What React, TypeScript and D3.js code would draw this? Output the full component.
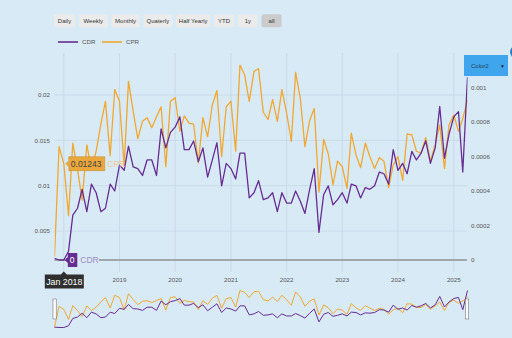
import React from 'react';
import * as d3 from 'd3';

const W = 512;
const H = 338;
const BG = '#d9eaf7';
const PURPLE = '#662d91';
const ORANGE = '#f0a830';
const GRID = '#c5d6e4';
const TEXT = '#555';
const FONT = '"Liberation Sans", Arial, sans-serif';

// monthly observations, Nov 2017 .. Apr 2025
const firstMonth = new Date(Date.UTC(2017, 10, 1));
const endMonth = new Date(Date.UTC(2025, 4, 1));
const months = d3.utcMonth.range(firstMonth, endMonth);

const cpr = [
  0.0022, 0.0143, 0.01243, 0.0067, 0.0147, 0.0118, 0.0084, 0.0145, 0.0118, 0.0138,
  0.0168, 0.0193, 0.0133, 0.0206, 0.0193, 0.0122, 0.0215, 0.0182, 0.0152, 0.0171,
  0.0175, 0.0164, 0.0176, 0.0187, 0.0121, 0.0193, 0.0197, 0.016, 0.0177, 0.0169,
  0.0168, 0.0125, 0.0175, 0.0154, 0.0189, 0.0205, 0.0132, 0.0187, 0.0193, 0.0138,
  0.0233, 0.0222, 0.0193, 0.0226, 0.0229, 0.0181, 0.0173, 0.0195, 0.0171, 0.0206,
  0.018, 0.0149, 0.0225, 0.0196, 0.0143, 0.0172, 0.0185, 0.0093, 0.0151, 0.0135,
  0.0101, 0.0127, 0.0121, 0.0097, 0.0158, 0.0134, 0.012, 0.0147, 0.0132, 0.0119,
  0.0131, 0.0127, 0.0098, 0.0123, 0.0132, 0.0106, 0.0157, 0.0156, 0.0138, 0.0136,
  0.0153, 0.0127, 0.0145, 0.0167, 0.0119, 0.0167, 0.0178, 0.016, 0.0174, 0.0195,
];

const cdr = [
  0.00001, 0, 0, 0.00005, 0.00026, 0.0003, 0.00041, 0.00028, 0.00044, 0.00039,
  0.00028, 0.0003, 0.00044, 0.0004, 0.00055, 0.00052, 0.00066, 0.00054, 0.00053, 0.00049,
  0.00058, 0.00058, 0.00049, 0.00076, 0.00065, 0.00074, 0.00077, 0.00083, 0.00064, 0.00064,
  0.00069, 0.00057, 0.00065, 0.00048, 0.00058, 0.00068, 0.00043, 0.00056, 0.00053, 0.00047,
  0.00062, 0.00062, 0.00036, 0.00039, 0.00046, 0.00035, 0.00036, 0.00039, 0.00028, 0.00039,
  0.00033, 0.00033, 0.0004, 0.00034, 0.00027, 0.00041, 0.00053, 0.00016, 0.00038, 0.00043,
  0.00032, 0.00035, 0.00039, 0.00033, 0.00044, 0.00043, 0.00036, 0.00042, 0.00041, 0.00043,
  0.00051, 0.0005, 0.00044, 0.00064, 0.00052, 0.00056, 0.0005, 0.00063, 0.00058, 0.00062,
  0.00069, 0.00056, 0.00065, 0.00089, 0.00059, 0.00073, 0.00083, 0.00086, 0.00051, 0.00106,
];

const yearTicks = [2018, 2019, 2020, 2021, 2022, 2023, 2024, 2025];
const yearLabels = [2019, 2020, 2021, 2022, 2023, 2024, 2025]; // 2018 is hidden under the cursor tooltip
const leftTicks = [0.005, 0.01, 0.015, 0.02];
const rightTicks = [0, 0.0002, 0.0004, 0.0006, 0.0008, 0.001];
const buttons = ['Daily', 'Weekly', 'Monthly', 'Quaterly', 'Half Yearly', 'YTD', '1y', 'all'];
const buttonWidths = [21, 29, 28, 29, 34, 20, 20, 20];
const seriesNames = ['CDR', 'CPR'];

const tooltipIndex = 2; // Jan 2018

// layout
const PL = 54.5;
const PR = 467.5;
const PT = 53;
const PB = 272;

export default function App() {
  const x = d3.scaleUtc().domain([firstMonth, new Date(Date.UTC(2025, 3, 1))]).range([PL, PR]);
  const yL = d3.scaleLinear().domain([0, 0.02]).range([276.4, 95]);
  const yR = d3.scaleLinear().domain([0, 0.001]).range([260, 87.5]);

  const lineCpr = d3.line<number>().x((_, i) => x(months[i])).y((d) => yL(d));
  const lineCdr = d3.line<number>().x((_, i) => x(months[i])).y((d) => yR(d));

  const nL = d3.scaleLinear().domain(d3.extent(cpr) as [number, number]).range([327.5, 290.5]);
  const nR = d3.scaleLinear().domain(d3.extent(cdr) as [number, number]).range([327.5, 290.5]);
  const navCpr = d3.line<number>().x((_, i) => x(months[i])).y((d) => nL(d));
  const navCdr = d3.line<number>().x((_, i) => x(months[i])).y((d) => nR(d));

  let bx = 54;
  const btns = buttons.map((b, i) => {
    const r = { label: b, x: bx, w: buttonWidths[i] };
    bx += buttonWidths[i] + 3.8;
    return r;
  });

  const tx = x(months[tooltipIndex]);
  const tCpr = yL(cpr[tooltipIndex]);
  const tCdr = yR(cdr[tooltipIndex]);
  const fmtMonth = d3.utcFormat('%b %Y');

  return (
    <svg width={W} height={H} style={{ position: 'absolute', left: 0, top: 0, fontFamily: FONT }}>
      <defs>
        <clipPath id="plotClip">
          <rect x={PL} y={PT - 5} width={PR - PL} height={PB - PT + 5} />
        </clipPath>
      </defs>
      <rect x={0} y={0} width={W} height={H} fill={BG} />

      {/* period buttons */}
      {btns.map((b, i) => (
        <g key={b.label}>
          <rect x={b.x} y={14.3} width={b.w} height={13} rx={2} fill={i === btns.length - 1 ? '#cbcbcb' : '#ebebeb'} />
          <text x={b.x + b.w / 2} y={23.1} fontSize={6} textAnchor="middle" fill="#333">{b.label}</text>
        </g>
      ))}

      {/* legend */}
      <line x1={58} x2={78} y1={42} y2={42} stroke={PURPLE} strokeWidth={1.6} />
      <text x={82} y={44.2} fontSize={6.2} fill={TEXT}>{seriesNames[0]}</text>
      <line x1={102} x2={122} y1={42} y2={42} stroke={ORANGE} strokeWidth={1.6} />
      <text x={126} y={44.2} fontSize={6.2} fill={TEXT}>{seriesNames[1]}</text>

      {/* grid */}
      {yearTicks.map((yr) => {
        const gx = x(new Date(Date.UTC(yr, 0, 1)));
        return <line key={yr} x1={gx} x2={gx} y1={PT} y2={PB} stroke={GRID} strokeWidth={0.8} />;
      })}
      {leftTicks.map((t) => (
        <line key={t} x1={PL} x2={PR - 0.5} y1={yL(t)} y2={yL(t)} stroke={GRID} strokeWidth={0.8} />
      ))}
      <line x1={PL} x2={PR - 0.5} y1={yR(0)} y2={yR(0)} stroke="#8c9196" strokeWidth={1.4} />

      {/* series */}
      <g clipPath="url(#plotClip)">
        <path d={lineCpr(cpr) || ''} fill="none" stroke={ORANGE} strokeWidth={1.3} strokeLinejoin="round" />
        <path d={lineCdr(cdr) || ''} fill="none" stroke={PURPLE} strokeWidth={1.3} strokeLinejoin="round" />
      </g>

      {/* axes labels */}
      {leftTicks.map((t) => (
        <text key={t} x={50} y={yL(t) + 2.2} fontSize={6.2} textAnchor="end" fill={TEXT}>{d3.format('~g')(t)}</text>
      ))}
      {rightTicks.map((t) => (
        <text key={t} x={471} y={yR(t) + 2.2} fontSize={6.2} fill={TEXT}>{t === 0 ? '0' : d3.format('~g')(t)}</text>
      ))}
      {yearLabels.map((yr) => (
        <text key={yr} x={x(new Date(Date.UTC(yr, 0, 1)))} y={281.5} fontSize={6.2} textAnchor="middle" fill={TEXT}>{yr}</text>
      ))}

      {/* navigator */}
      <path d={navCpr(cpr) || ''} fill="none" stroke={ORANGE} strokeWidth={1} />
      <path d={navCdr(cdr) || ''} fill="none" stroke={PURPLE} strokeWidth={1} />
      <rect x={53} y={299} width={3.2} height={20} fill="#fff" stroke="#777" strokeWidth={0.6} />
      <rect x={465.5} y={299} width={3.2} height={20} fill="#fff" stroke="#777" strokeWidth={0.6} />

      {/* tooltips */}
      <g>
        <path d={`M${tx + 2},${tCpr} L${tx + 5},${tCpr - 3} L${tx + 5},${tCpr - 7} L${tx + 41},${tCpr - 7} L${tx + 41},${tCpr + 7} L${tx + 5},${tCpr + 7} L${tx + 5},${tCpr + 3} Z`} fill="#e9a73c" stroke="#c98a20" strokeWidth={0.5} />
        <text x={tx + 7} y={tCpr + 3.1} fontSize={8.5} fill="#444">{cpr[tooltipIndex]}</text>
        <text x={tx + 43.5} y={tCpr + 3.1} fontSize={8.5} fill="#f2c88a">{seriesNames[1]}</text>
      </g>
      <g>
        <rect x={tx + 13} y={tCdr - 5} width={22} height={10} fill={BG} />
        <path d={`M${tx + 1},${tCdr} L${tx + 4},${tCdr - 3} L${tx + 4},${tCdr - 7} L${tx + 13.5},${tCdr - 7} L${tx + 13.5},${tCdr + 7} L${tx + 4},${tCdr + 7} L${tx + 4},${tCdr + 3} Z`} fill={PURPLE} />
        <text x={tx + 6} y={tCdr + 3.1} fontSize={8.5} fill="#fff">{cdr[tooltipIndex]}</text>
        <text x={tx + 16.5} y={tCdr + 3.1} fontSize={8.5} fill="#9f8cc6">{seriesNames[0]}</text>
      </g>
      <g>
        <path d={`M${tx - 19},${274.5} L${tx - 3},${274.5} L${tx},${271.5} L${tx + 3},${274.5} L${tx + 20},${274.5} L${tx + 20},${288.5} L${tx - 19},${288.5} Z`} fill="#2f2f2f" />
        <text x={tx + 0.5} y={284.7} fontSize={8.8} textAnchor="middle" fill="#fff">{fmtMonth(months[tooltipIndex])}</text>
      </g>

      {/* colour selector */}
      <rect x={464} y={55} width={44} height={21} fill="#3fa6ee" />
      <text x={471} y={68} fontSize={6} fill="#24405a">Color2</text>
      <text x={500} y={67.5} fontSize={5} fill="#223">▼</text>
      <circle cx={516} cy={52} r={6} fill="#2c7bc0" />
    </svg>
  );
}
